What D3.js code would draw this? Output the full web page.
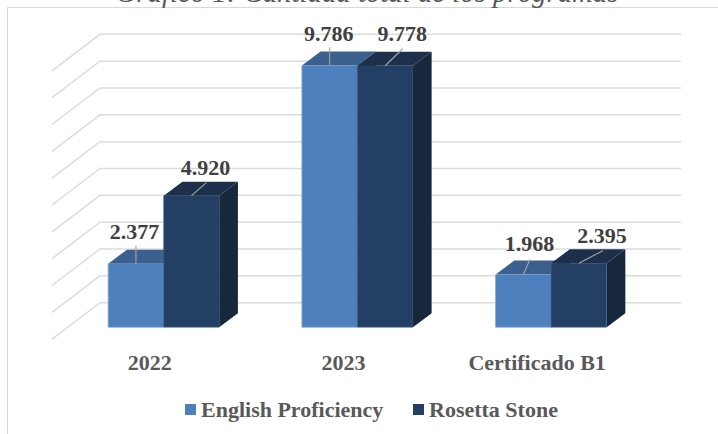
<!DOCTYPE html>
<html><head><meta charset="utf-8">
<script src="https://cdn.jsdelivr.net/npm/d3@7"></script>
<style>html,body{margin:0;padding:0;background:#fff;overflow:hidden}svg{display:block}text{font-family:"Liberation Serif",serif}</style>
</head><body><svg id="c" width="718" height="434"></svg>
<script>
const titleText = "Gráfico 1: Cantidad total de los programas";
const categories = ["2022","2023","Certificado B1"];
const seriesNames = ["English Proficiency","Rosetta Stone"];
const englishProficiency = [2377,9786,1968];
const rosettaStone = [4920,9778,2395];
const gridTicks = d3.range(0,11000,1000);
const labelFormat = v => d3.format(".3f")(v/1000);

// layout of the leader lines and labels, relative to each bar's top centre
const leaderEnds = [[[0,-18],[15,-13]],[[0,-18],[17.5,-17]],[[6.5,-15],[24,-12.5]]];
const labelShift = [[[-1.5,-25],[14,-21]],[[-1,-25],[17,-25]],[[6,-23.5],[23,-20]]];

const W=718,H=434;
const svg=d3.select("#c");
const x0=d3.scaleBand().domain(categories).range([66.85,648]).paddingInner(0.427).paddingOuter(0.2135);
const x1=d3.scaleBand().domain(seriesNames).range([0,x0.bandwidth()]);
const y=d3.scaleLinear().domain([0,10000]).range([327.2,59.8]);
const yWall=d3.scaleLinear().domain([0,10000]).range([302.7,34.3]);
const wall={dx:48,dy:36.5,left:100,right:681};
const bar={dx:18.7,dy:14};
const palette=[{front:"#4e80bd",top:"#3b608e",side:"#2f4d72",edge:"#7fa3d0"},{front:"#243f64",top:"#1c304c",side:"#17283d",edge:"#3f5d86"}];

// frame
svg.append("path").attr("d",`M7.5,${H}V7.5H${W}`).attr("fill","none").attr("stroke","#d9d9d9").attr("stroke-width",1);

// title (clipped by the top of the picture, as in the reference)
svg.append("text").attr("x",367).attr("y",1.5).attr("text-anchor","middle").attr("font-style","italic").attr("font-size",28.8).attr("fill","#595959").text(titleText);

// walls
const g=svg.append("g").attr("fill","none").attr("stroke","#dcdcdc").attr("stroke-width",1.5);
gridTicks.forEach(t=>{
  const yb=yWall(t);
  g.append("path").attr("d",`M${wall.left-wall.dx},${yb+wall.dy}L${wall.left},${yb}H${wall.right}`);
});

// bars
const series=[englishProficiency,rosettaStone];
categories.forEach((c,ci)=>{
  series.forEach((vals,si)=>{
    const v=vals[ci], n=seriesNames[si], p=palette[si];
    const xa=x0(c)+x1(n), w=x1.bandwidth(), xb=xa+w, yt=y(v), yb=y(0);
    const G=svg.append("g");
    G.append("path").attr("fill",p.side).attr("d",`M${xb},${yt}l${bar.dx},${-bar.dy}V${yb-bar.dy}L${xb},${yb}Z`);
    G.append("path").attr("fill",p.top).attr("d",`M${xa},${yt}l${bar.dx},${-bar.dy}H${xb+bar.dx}L${xb},${yt}Z`);
    G.append("rect").attr("x",xa).attr("y",yt).attr("width",w).attr("height",yb-yt).attr("fill",p.front);
    G.append("path").attr("fill","none").attr("stroke",p.edge).attr("stroke-width",1).attr("d",`M${xa},${yt}V${yb}H${xb}`).attr("opacity",si?0.6:0.8);
  });
});

// leaders and labels on top of all bars
series.forEach((vals,si)=>{
  categories.forEach((c,ci)=>{
    const v=vals[ci], n=seriesNames[si];
    const cx=x0(c)+x1(n)+x1.bandwidth()/2, yt=y(v);
    const le=leaderEnds[ci][si], ls=labelShift[ci][si];
    svg.append("line").attr("x1",cx).attr("y1",yt).attr("x2",cx+le[0]).attr("y2",yt+le[1]).attr("stroke","#a6a6a6").attr("stroke-width",1.1);
    svg.append("text").attr("x",cx+ls[0]).attr("y",yt+ls[1]).attr("text-anchor","middle").attr("font-weight","bold").attr("font-size",22).attr("fill","#404040").text(labelFormat(v));
  });
});

// category labels
categories.forEach(c=>{
  svg.append("text").attr("x",x0(c)+x0.bandwidth()/2-14).attr("y",370).attr("text-anchor","middle").attr("font-weight","bold").attr("font-size",22).attr("fill","#595959").text(c);
});

// legend
const legendX=[185,413];
seriesNames.forEach((n,i)=>{
  svg.append("rect").attr("x",legendX[i]).attr("y",404).attr("width",11).attr("height",11).attr("fill",palette[i].front);
  svg.append("text").attr("x",legendX[i]+16).attr("y",416.5).attr("font-weight","bold").attr("font-size",22).attr("fill","#595959").text(n);
});
</script></body></html>
